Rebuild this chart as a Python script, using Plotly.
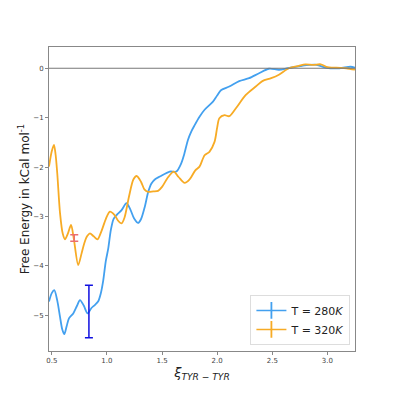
import plotly.graph_objects as go

BLUE = "#43a0ef"
ORANGE = "#f7ab25"

# T = 280K curve
x_280 = [0.475, 0.50, 0.523, 0.55, 0.575, 0.595, 0.614, 0.635, 0.656, 0.695, 0.73, 0.756,
         0.79, 0.825, 0.86, 0.89, 0.92, 0.945, 0.967, 0.99, 1.012, 1.036, 1.06, 1.088,
         1.133, 1.178, 1.215, 1.247, 1.283, 1.31, 1.344, 1.375, 1.404, 1.44, 1.48, 1.57,
         1.63, 1.675, 1.70, 1.735, 1.765, 1.796, 1.84, 1.886, 1.96, 2.00, 2.037, 2.11,
         2.20, 2.29, 2.38, 2.47, 2.56, 2.64, 2.77, 2.90, 2.99, 3.11, 3.21, 3.25]
y_280 = [-4.72, -4.55, -4.49, -4.70, -5.03, -5.28, -5.38, -5.22, -5.06, -4.96, -4.80, -4.69,
         -4.80, -4.96, -4.85, -4.79, -4.72, -4.55, -4.29, -3.90, -3.65, -3.27, -3.05, -2.97,
         -2.87, -2.73, -2.87, -3.04, -3.13, -3.05, -2.80, -2.50, -2.33, -2.24, -2.19, -2.09,
         -2.09, -1.92, -1.75, -1.45, -1.28, -1.15, -0.98, -0.84, -0.68, -0.55, -0.44, -0.37,
         -0.26, -0.20, -0.10, -0.01, -0.03, 0.0, 0.05, 0.07, 0.01, 0.0, 0.03, 0.01]

# T = 320K curve
x_320 = [0.475, 0.50, 0.52, 0.535, 0.55, 0.575, 0.60, 0.62, 0.645, 0.675, 0.70, 0.74,
         0.77, 0.795, 0.82, 0.846, 0.88, 0.915, 0.95, 0.99, 1.027, 1.07, 1.10, 1.133,
         1.16, 1.20, 1.24, 1.27, 1.31, 1.34, 1.373, 1.42, 1.464, 1.50, 1.55, 1.606,
         1.65, 1.705, 1.75, 1.80, 1.84, 1.886, 1.93, 1.976, 2.00, 2.02, 2.067, 2.11,
         2.17, 2.26, 2.35, 2.41, 2.49, 2.56, 2.65, 2.74, 2.80, 2.87, 2.94, 2.99,
         3.08, 3.17, 3.25]
y_320 = [-1.99, -1.68, -1.55, -1.75, -2.13, -2.93, -3.35, -3.46, -3.35, -3.17, -3.45, -3.98,
         -3.75, -3.54, -3.40, -3.34, -3.40, -3.46, -3.30, -3.05, -2.90, -2.97, -3.08, -3.14,
         -3.02, -2.60, -2.25, -2.18, -2.30, -2.45, -2.50, -2.49, -2.48, -2.40, -2.22, -2.09,
         -2.20, -2.32, -2.25, -2.07, -1.99, -1.76, -1.69, -1.49, -1.20, -1.01, -0.95, -0.97,
         -0.81, -0.54, -0.37, -0.26, -0.20, -0.13, 0.0, 0.05, 0.08, 0.07, 0.08, 0.03,
         0.01, 0.0, -0.03]

# error bars (position, value, half-width)
err_x = [0.837, 0.704]
err_y = [-4.92, -3.435]
err_size = [0.53, 0.065]
err_colors = ["#1010e0", "#ec6e6e"]
labels = ["T = 280<i>K</i>", "T = 320<i>K</i>"]

fig = go.Figure()
fig.add_trace(go.Scatter(x=x_280, y=y_280, mode="lines", showlegend=False,
                         line=dict(color=BLUE, width=1.8, shape="spline", smoothing=0.8)))
fig.add_trace(go.Scatter(x=x_320, y=y_320, mode="lines", showlegend=False,
                         line=dict(color=ORANGE, width=1.8, shape="spline", smoothing=0.8)))

for i in range(2):
    fig.add_trace(go.Scatter(
        x=[err_x[i]], y=[err_y[i]], mode="markers", showlegend=False,
        marker=dict(size=1, color=err_colors[i], opacity=0),
        error_y=dict(type="data", array=[err_size[i]], color=err_colors[i],
                     thickness=1.5, width=4),
    ))

# legend-only entries
for lbl, lc, ec in zip(labels, [BLUE, ORANGE], err_colors):
    fig.add_trace(go.Scatter(
        x=[None], y=[None], mode="lines+markers", name=lbl,
        line=dict(color=lc, width=1.5),
        marker=dict(symbol="line-ns-open", size=12, line=dict(color=ec, width=1.8)),
    ))

fig.add_hline(y=0, line_color="#777777", line_width=1.2)

# page body has an 8px margin, so the figure is 387 px and margins are shifted
fig.update_layout(
    width=387, height=387,
    margin=dict(l=41, r=40, t=39, b=44),
    plot_bgcolor="white", paper_bgcolor="white",
    font=dict(family="DejaVu Sans", color="#222222"),
    legend=dict(x=0.985, y=0.02, xanchor="right", yanchor="bottom",
                bgcolor="white", bordercolor="#dddddd", borderwidth=1,
                font=dict(size=11), itemwidth=30),
)
fig.update_xaxes(range=[0.475, 3.25], tickvals=[0.5, 1.0, 1.5, 2.0, 2.5, 3.0],
                 ticktext=["0.5", "1.0", "1.5", "2.0", "2.5", "3.0"],
                 showgrid=False, zeroline=False, showline=True, mirror=True,
                 linecolor="#888888", linewidth=1, ticks="outside", ticklen=3,
                 tickcolor="#888888", tickfont=dict(size=7, color="#444444"),
                 title=dict(text="<i>ξ<sub>TYR − TYR</sub></i>", font=dict(size=13), standoff=0))
fig.update_yaxes(range=[-5.72, 0.43], tickvals=[-5, -4, -3, -2, -1, 0],
                 showgrid=False, zeroline=False, showline=True, mirror=True,
                 linecolor="#888888", linewidth=1, ticks="outside", ticklen=3,
                 tickcolor="#888888", tickfont=dict(size=7, color="#444444"),
                 title=dict(text="Free Energy in kCal mol<sup>-1</sup>", font=dict(size=12), standoff=1))

fig.write_html("out.html")
